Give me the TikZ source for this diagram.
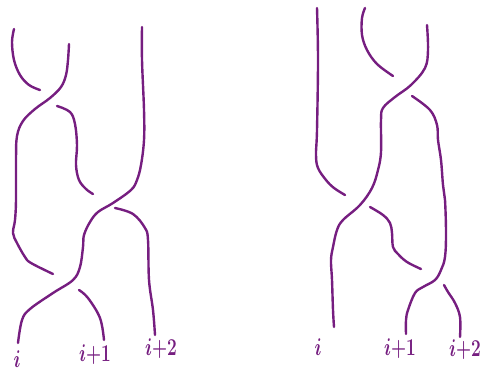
\documentclass[tikz,border=0pt]{standalone}
\usepackage{graphicx}
\definecolor{braid}{RGB}{118,30,128}
\begin{document}
\begin{tikzpicture}[x=1pt,y=-1pt,
  strand/.style={draw=braid,line width=2.4pt,line cap=round,line join=round},
  lab/.style={text=braid,inner sep=0pt,font=\fontsize{17}{17}\selectfont\boldmath}]
\useasboundingbox (0,0) rectangle (481,372);
% ---------- left braid ----------
\draw[strand] plot[smooth,tension=0.6] coordinates {(14,29) (12,42) (14,60) (20,75) (29,85) (40,90)};
\draw[strand] plot[smooth,tension=0.6] coordinates {(69,44) (68,60) (66,75) (61,87) (50,98) (35,109) (23,121) (17,136) (16,160) (16,200) (15,220) (13,233) (17,243) (25,257) (31,263) (53,274)};
\draw[strand] plot[smooth,tension=0.6] coordinates {(57,106) (70,112) (75,124) (77,145) (76,165) (79,180) (86,189) (93,194)};
\draw[strand] plot[smooth,tension=0.6] coordinates {(142,27) (142,60) (144,110) (144,140) (141,165) (137,180) (131,190) (113,203) (98,212) (90,222) (84,235) (83,247) (80,267) (73,280) (53,293) (30,309) (22,320) (18,343)};
\draw[strand] plot[smooth,tension=0.6] coordinates {(115,208) (133,214) (145,228) (148,240) (149,280) (153,310) (155,335)};
\draw[strand] plot[smooth,tension=0.6] coordinates {(79,290) (88,298) (100,318) (104,340)};
% ---------- right braid ----------
\draw[strand] plot[smooth,tension=0.6] coordinates {(317,8) (318,60) (317,130) (316,155) (318,168) (326,180) (334,188) (345,195)};
\draw[strand] plot[smooth,tension=0.6] coordinates {(365,8) (362,18) (362,35) (367,50) (377,64) (393,76)};
\draw[strand] plot[smooth,tension=0.6] coordinates {(427,25) (428,50) (425,68) (411,85) (395,97) (383,108) (381,120) (381,152) (378,170) (372,188) (360,205) (343,220) (337,230) (333,247) (331,260) (332,280) (333,310) (334,327)};
\draw[strand] plot[smooth,tension=0.6] coordinates {(412,96) (430,110) (437,125) (438,140) (441,160) (443,185) (445,200) (446,233) (445,257) (441,270) (435,280) (423,287) (415,293) (408,310) (406,320) (406,334)};
\draw[strand] plot[smooth,tension=0.6] coordinates {(370,207) (383,215) (390,223) (392,233) (393,247) (398,254) (407,262) (421,269)};
\draw[strand] plot[smooth,tension=0.6] coordinates {(444,285) (448,292) (455,303) (460,317) (460,337)};
% ---------- labels ----------
\node[lab] (l1) at (17,359) {\scalebox{1}[1.4]{$i$}};
\node[lab] (l2) at (95,355) {\scalebox{1}[1.4]{$i{+}1$}};
\node[lab] (l3) at (161,349) {\scalebox{1}[1.4]{$i{+}2$}};
\node[lab] (r1) at (318,347) {\scalebox{1}[1.4]{$i$}};
\node[lab] (r2) at (400,349) {\scalebox{1}[1.4]{$i{+}1$}};
\node[lab] (r3) at (465,350) {\scalebox{1}[1.4]{$i{+}2$}};
\end{tikzpicture}
\end{document}
